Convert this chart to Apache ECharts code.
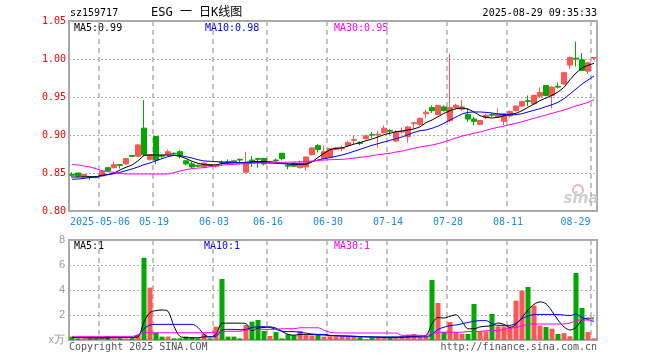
<!DOCTYPE html>
<html>
<head>
<meta charset="utf-8">
<script src="https://cdn.jsdelivr.net/npm/echarts@6/dist/echarts.min.js"></script>
<style>
html,body{margin:0;padding:0;background:#fff;}
#c{width:660px;height:360px;}
</style>
</head>
<body>
<div id="c"></div>
<script>
const dates = [
'2025-04-24','2025-04-25','2025-04-28','2025-04-29','2025-04-30',
'2025-05-06','2025-05-07','2025-05-08','2025-05-09','2025-05-12','2025-05-13','2025-05-14','2025-05-15','2025-05-16',
'2025-05-19','2025-05-20','2025-05-21','2025-05-22','2025-05-23',
'2025-05-26','2025-05-27','2025-05-28','2025-05-29','2025-05-30',
'2025-06-03','2025-06-04','2025-06-05','2025-06-06',
'2025-06-09','2025-06-10','2025-06-11','2025-06-12','2025-06-13',
'2025-06-16','2025-06-17','2025-06-18','2025-06-19','2025-06-20',
'2025-06-23','2025-06-24','2025-06-25','2025-06-26','2025-06-27',
'2025-06-30','2025-07-01','2025-07-02','2025-07-03','2025-07-04',
'2025-07-07','2025-07-08','2025-07-09','2025-07-10','2025-07-11',
'2025-07-14','2025-07-15','2025-07-16','2025-07-17','2025-07-18',
'2025-07-21','2025-07-22','2025-07-23','2025-07-24','2025-07-25',
'2025-07-28','2025-07-29','2025-07-30','2025-07-31','2025-08-01',
'2025-08-04','2025-08-05','2025-08-06','2025-08-07','2025-08-08',
'2025-08-11','2025-08-12','2025-08-13','2025-08-14','2025-08-15',
'2025-08-18','2025-08-19','2025-08-20','2025-08-21','2025-08-22',
'2025-08-25','2025-08-26','2025-08-27','2025-08-28','2025-08-29'
];
const opens = [
0.848,0.850,0.845,0.845,0.845,
0.846,0.857,0.857,0.861,0.862,0.873,0.872,0.909,0.868,
0.898,0.873,0.874,0.876,0.878,
0.866,0.862,0.860,0.858,0.861,
0.859,0.864,0.865,0.866,
0.868,0.851,0.867,0.869,0.869,
0.863,0.867,0.876,0.860,0.863,
0.857,0.858,0.874,0.886,0.869,
0.871,0.881,0.882,0.886,0.893,
0.890,0.895,0.9005,0.900,0.903,
0.906,0.892,0.904,0.898,0.915,
0.914,0.928,0.936,0.927,0.937,
0.919,0.936,0.934,0.927,0.921,
0.914,0.923,0.927,0.924,0.918,
0.925,0.932,0.938,0.945,0.941,
0.951,0.965,0.952,0.964,0.967,
0.992,1.001,0.999,0.984,1.001
];
const closes = [
0.847,0.846,0.848,0.844,0.844,
0.852,0.853,0.861,0.860,0.869,0.872,0.887,0.874,0.874,
0.867,0.872,0.878,0.875,0.873,
0.862,0.858,0.859,0.863,0.860,
0.861,0.863,0.864,0.865,
0.867,0.864,0.866,0.868,0.862,
0.865,0.866,0.869,0.859,0.859,
0.863,0.871,0.883,0.881,0.878,
0.882,0.883,0.883,0.890,0.894,
0.889,0.899,0.900,0.901,0.909,
0.905,0.904,0.905,0.9105,0.916,
0.922,0.930,0.932,0.939,0.932,
0.936,0.939,0.937,0.921,0.918,
0.919,0.926,0.926,0.928,0.928,
0.931,0.938,0.944,0.944,0.952,
0.956,0.952,0.963,0.963,0.982,
1.002,1.000,0.985,0.995,1.002
];
const lows = [
0.844,0.845,0.844,0.841,0.843,
0.845,0.852,0.856,0.856,0.861,0.871,0.871,0.872,0.866,
0.862,0.870,0.873,0.874,0.869,
0.860,0.856,0.858,0.857,0.859,
0.857,0.8595,0.8605,0.864,
0.8635,0.850,0.858,0.857,0.860,
0.862,0.865,0.8667,0.855,0.858,
0.856,0.853,0.873,0.877,0.868,
0.870,0.880,0.8785,0.884,0.888,
0.8864,0.894,0.896,0.883,0.902,
0.9005,0.891,0.902,0.890,0.908,
0.912,0.922,0.929,0.926,0.931,
0.917,0.934,0.932,0.917,0.913,
0.913,0.921,0.924,0.923,0.913,
0.923,0.931,0.937,0.938,0.940,
0.9487,0.951,0.935,0.961,0.966,
0.987,0.990,0.984,0.980,0.999
];
const highs = [
0.851,0.850,0.848,0.846,0.846,
0.853,0.858,0.865,0.861,0.870,0.873,0.888,0.946,0.875,
0.898,0.874,0.881,0.877,0.880,
0.867,0.865,0.861,0.864,0.862,
0.862,0.8665,0.868,0.866,
0.869,0.878,0.872,0.870,0.870,
0.866,0.869,0.876,0.864,0.864,
0.866,0.872,0.884,0.888,0.886,
0.883,0.884,0.8855,0.8925,0.8996,
0.8917,0.899,0.904,0.905,0.9127,
0.908,0.9066,0.910,0.912,0.917,
0.923,0.9333,0.939,0.939,0.939,
1.007,0.941,0.946,0.9355,0.924,
0.919,0.928,0.929,0.935,0.929,
0.932,0.939,0.945,0.952,0.953,
0.9627,0.965,0.964,0.969,0.982,
1.003,1.023,1.008,0.996,1.002
];
const volumes = [
0.27,0.13,0.13,0.13,0.13,
0.13,0.32,0.32,0.15,0.13,0.15,0.43,6.58,4.19,
0.59,0.27,0.27,0.13,0.13,
0.27,0.20,0.13,0.53,0.13,
1.07,4.88,0.27,0.27,
0.13,1.20,1.47,1.60,0.72,
0.32,0.64,0.13,0.45,0.37,
0.72,0.37,0.37,0.40,0.27,
0.29,0.29,0.29,0.29,0.29,
0.21,0.08,0.21,0.21,0.16,
0.16,0.16,0.29,0.43,0.48,
0.29,0.29,4.80,2.96,0.64,
1.44,0.64,0.48,0.48,2.88,
0.69,0.69,2.08,1.09,1.09,
1.09,3.15,3.95,4.24,2.75,
1.15,1.04,0.90,0.48,0.55,
0.30,5.36,2.56,0.64,0.13
];
const ma5 = [
0.8447,0.8447,0.8449,0.8451,0.8451,
0.847,0.848,0.850,0.854,0.8575,0.8605,0.866,0.8732,0.8737,
0.8737,0.8737,0.8737,0.8732,0.872,
0.869,0.8655,0.8627,0.861,0.8605,
0.8605,0.8625,0.863,0.8632,
0.8632,0.864,0.865,0.8652,0.865,
0.8645,0.864,0.863,0.8617,0.8614,
0.8614,0.8614,0.8645,0.8706,0.8759,
0.8807,0.8825,0.883,0.8855,0.888,
0.890,0.8925,0.8947,0.8974,0.9004,
0.9022,0.9044,0.9053,0.9066,0.9079,
0.9108,0.9162,0.9197,0.924,0.9285,
0.932,0.9346,0.9355,0.9342,0.9303,
0.9254,0.9232,0.9224,0.9232,0.9254,
0.9272,0.9285,0.932,0.9364,0.9408,
0.9452,0.9487,0.9522,0.9566,0.9627,
0.9728,0.9816,0.9882,0.9917,0.9943
];
const ma10 = [
0.8417,0.8421,0.843,0.8439,0.8447,
0.8465,0.8478,0.8491,0.8509,0.8531,0.8553,0.8579,0.861,0.8632,
0.8662,0.8689,0.8715,0.8732,0.8728,
0.8715,0.8697,0.8675,0.8658,0.8654,
0.8649,0.8645,0.864,0.864,
0.8636,0.8636,0.864,0.864,0.8636,
0.8632,0.8627,0.8623,0.862,0.862,
0.862,0.862,0.8649,0.8671,0.8689,
0.8702,0.8719,0.8737,0.8759,0.8785,
0.8811,0.8838,0.8864,0.8886,0.8908,
0.893,0.8952,0.8974,0.9004,0.9035,
0.9056,0.9066,0.9088,0.9118,0.9154,
0.9197,0.9237,0.9276,0.9298,0.9303,
0.9303,0.9298,0.929,0.9276,0.9268,
0.9263,0.9268,0.928,0.9303,0.9325,
0.9346,0.9373,0.9399,0.943,0.9478,
0.954,0.9605,0.9671,0.9724,0.9776
];
const ma30 = [
0.8614,0.8605,0.8592,0.8579,0.8557,
0.8531,0.8518,0.8509,0.8496,0.8487,0.8487,0.8487,0.8487,0.8487,
0.8487,0.8487,0.8487,0.8504,0.8526,
0.8544,0.8557,0.8565,0.857,0.8583,
0.8596,0.8605,0.861,0.8614,
0.8618,0.8623,0.8627,0.863,0.8632,
0.8636,0.864,0.864,0.8642,0.8645,
0.8648,0.865,0.8658,0.8665,0.867,
0.8675,0.8677,0.868,0.8686,0.8697,
0.8706,0.8715,0.8728,0.8741,0.875,
0.8759,0.8776,0.8789,0.8807,0.8825,
0.8842,0.8855,0.8868,0.8886,0.8908,
0.8934,0.896,0.8987,0.9004,0.9022,
0.9039,0.9061,0.9083,0.9101,0.9118,
0.9136,0.9154,0.9175,0.9197,0.9219,
0.9241,0.9263,0.9285,0.9307,0.9329,
0.9355,0.9382,0.9404,0.943,0.9465
];
const volMa5 = [
0.22,0.20,0.18,0.16,0.16,
0.15,0.17,0.20,0.20,0.20,0.20,0.25,1.45,2.20,
2.35,2.40,2.30,1.10,0.28,
0.20,0.18,0.18,0.25,0.25,
0.45,1.35,1.35,1.35,
1.35,1.30,0.75,0.95,1.00,
1.05,0.95,0.68,0.45,0.38,
0.45,0.42,0.45,0.42,0.40,
0.35,0.34,0.33,0.32,0.30,
0.28,0.26,0.24,0.22,0.20,
0.20,0.20,0.22,0.25,0.28,
0.32,0.36,1.30,1.80,1.76,
1.90,2.02,1.50,0.90,0.90,
1.05,1.10,1.15,1.36,1.25,
1.00,1.25,1.80,2.40,2.85,
3.05,2.90,2.30,1.60,1.05,
0.80,1.00,1.60,1.75,1.75
];
const volMa10 = [
0.20,0.20,0.20,0.20,0.20,
0.20,0.20,0.20,0.20,0.20,0.20,0.40,0.90,1.20,
1.25,1.25,1.25,1.25,1.25,
1.25,1.25,1.00,0.45,0.25,
0.30,0.78,0.85,0.85,
0.82,0.85,1.00,1.05,1.07,
1.00,0.85,0.70,0.67,0.67,
0.62,0.55,0.48,0.45,0.45,
0.37,0.35,0.32,0.30,0.29,
0.25,0.25,0.25,0.25,0.25,
0.25,0.25,0.25,0.25,0.25,
0.25,0.25,0.45,0.85,1.02,
1.15,1.20,1.30,1.40,1.50,
1.55,1.55,1.30,1.17,1.17,
1.17,1.35,1.70,1.92,2.03,
2.05,2.05,2.05,2.03,2.00,
1.95,2.08,1.80,1.65,1.45
];
const volMa30 = [
0.29,0.29,0.29,0.29,0.29,
0.29,0.29,0.29,0.29,0.29,0.29,0.40,0.60,0.58,
0.58,0.58,0.58,0.58,0.58,
0.58,0.58,0.58,0.58,0.60,
0.62,0.67,0.70,0.70,
0.70,0.80,0.85,0.85,0.85,
0.85,0.85,0.90,0.90,0.90,
0.98,0.98,0.98,0.98,0.78,
0.62,0.57,0.56,0.56,0.56,
0.56,0.56,0.56,0.56,0.56,
0.56,0.56,0.38,0.37,0.37,
0.37,0.37,0.50,0.60,0.62,
0.62,0.62,0.62,0.68,0.68,
0.68,0.75,0.75,0.75,0.85,
0.95,1.00,1.12,1.25,1.28,
1.28,1.28,1.28,1.28,1.28,
1.35,1.55,1.60,1.60,1.60
];
const tickDates = ['2025-05-06','2025-05-19','2025-06-03','2025-06-16','2025-06-30','2025-07-14','2025-07-28','2025-08-11','2025-08-29'];
const tickLabels = ['2025-05-06','05-19','06-03','06-16','06-30','07-14','07-28','08-11','08-29'];

const RED = '#ff5555', GREEN = '#00a800';
const MONO = '"DejaVu Sans Mono","Liberation Mono",monospace';
const isTick = (i, v) => tickDates.indexOf(v) >= 0;

const chart = echarts.init(document.getElementById('c'), null, {renderer: 'canvas'});
const vSplit = {show: true, interval: isTick, lineStyle: {color: '#b0b0b0', type: [5, 4], width: 1.5}};
const hSplit = {show: true, lineStyle: {color: '#b0b0b0', type: [2, 2], width: 1}};

chart.setOption({
  animation: false,
  backgroundColor: '#fff',
  grid: [
    {left: 69, width: 528, top: 21, height: 190, show: true, borderColor: '#a8a8a8', borderWidth: 2},
    {left: 69, width: 528, top: 240, height: 100, show: true, borderColor: '#a8a8a8', borderWidth: 2}
  ],
  xAxis: [
    {type: 'category', gridIndex: 0, data: dates, boundaryGap: true,
     axisLine: {show: false}, axisTick: {show: false},
     axisLabel: {interval: isTick, color: '#1e8ae6', fontFamily: MONO, fontSize: 10, margin: 6,
       padding: [0, 4, 0, 0],
       formatter: function (v) {
         const k = tickDates.indexOf(v);
         return k === tickDates.length - 1 ? '{e|' + tickLabels[k] + '}' : tickLabels[k];
       },
       rich: {e: {padding: [0, 33, 0, 0], color: '#1e8ae6', fontFamily: MONO, fontSize: 10}}},
     splitLine: vSplit},
    {type: 'category', gridIndex: 1, data: dates, boundaryGap: true,
     axisLine: {show: false}, axisTick: {show: false}, axisLabel: {show: false},
     splitLine: vSplit}
  ],
  yAxis: [
    {type: 'value', gridIndex: 0, min: 0.8, max: 1.05, interval: 0.05, scale: true,
     axisLine: {show: false}, axisTick: {show: false},
     axisLabel: {color: '#ff0000', fontFamily: MONO, fontSize: 10, margin: 3,
       formatter: v => v.toFixed(2)},
     splitLine: hSplit},
    {type: 'value', gridIndex: 1, min: 0, max: 8, interval: 2,
     axisLine: {show: false}, axisTick: {show: false},
     axisLabel: {color: '#999', fontFamily: '"Liberation Sans",Arial,sans-serif', fontSize: 11, margin: 4,
       formatter: v => v === 0 ? 'x万' : String(v)},
     splitLine: hSplit}
  ],
  series: [
    {type: 'candlestick', xAxisIndex: 0, yAxisIndex: 0, barWidth: 5,
     data: dates.map((d, i) => [opens[i], closes[i], lows[i], highs[i]]),
     itemStyle: {color: RED, color0: GREEN, borderColor: RED, borderColor0: GREEN, borderWidth: 1}},
    {type: 'line', xAxisIndex: 0, yAxisIndex: 0, data: ma5, symbol: 'none', lineStyle: {color: '#000', width: 1}},
    {type: 'line', xAxisIndex: 0, yAxisIndex: 0, data: ma10, symbol: 'none', lineStyle: {color: '#0000ff', width: 1}},
    {type: 'line', xAxisIndex: 0, yAxisIndex: 0, data: ma30, symbol: 'none', lineStyle: {color: '#ff00ff', width: 1}},
    {type: 'bar', xAxisIndex: 1, yAxisIndex: 1, barWidth: 5,
     data: volumes.map((v, i) => ({value: v, itemStyle: {color: closes[i] >= opens[i] ? RED : GREEN}}))},
    {type: 'line', xAxisIndex: 1, yAxisIndex: 1, data: volMa5, symbol: 'none', smooth: 0.3, lineStyle: {color: '#000', width: 1}},
    {type: 'line', xAxisIndex: 1, yAxisIndex: 1, data: volMa10, symbol: 'none', smooth: 0.3, lineStyle: {color: '#0000ff', width: 1}},
    {type: 'line', xAxisIndex: 1, yAxisIndex: 1, data: volMa30, symbol: 'none', smooth: 0.3, lineStyle: {color: '#ff00ff', width: 1}}
  ],
  graphic: [
    {type: 'text', x: 70, y: 13, style: {text: 'sz159717', fill: '#000', font: '10px ' + MONO, verticalAlign: 'middle'}},
    {type: 'text', x: 151, y: 13, style: {text: 'ESG 一 日K线图', fill: '#000', font: '12px "DejaVu Sans Mono","Noto Sans CJK SC"', verticalAlign: 'middle'}},
    {type: 'text', x: 597, y: 13, style: {text: '2025-08-29 09:35:33', fill: '#000', font: '10px ' + MONO, align: 'right', verticalAlign: 'middle'}},
    {type: 'text', x: 74, y: 28, style: {text: 'MA5:' + ma5[ma5.length - 1].toFixed(2), fill: '#000', font: '10px ' + MONO, verticalAlign: 'middle'}},
    {type: 'text', x: 205, y: 28, style: {text: 'MA10:' + ma10[ma10.length - 1].toFixed(2), fill: '#0000ff', font: '10px ' + MONO, verticalAlign: 'middle'}},
    {type: 'text', x: 334, y: 28, style: {text: 'MA30:' + ma30[ma30.length - 1].toFixed(2), fill: '#ff00ff', font: '10px ' + MONO, verticalAlign: 'middle'}},
    {type: 'text', x: 74, y: 246, style: {text: 'MA5:1', fill: '#000', font: '10px ' + MONO, verticalAlign: 'middle'}},
    {type: 'text', x: 204, y: 246, style: {text: 'MA10:1', fill: '#0000ff', font: '10px ' + MONO, verticalAlign: 'middle'}},
    {type: 'text', x: 334, y: 246, style: {text: 'MA30:1', fill: '#ff00ff', font: '10px ' + MONO, verticalAlign: 'middle'}},
    {type: 'text', x: 69, y: 347, style: {text: 'Copyright 2025 SINA.COM', fill: '#555', font: '10px ' + MONO, verticalAlign: 'middle'}},
    {type: 'text', x: 597, y: 347, style: {text: 'http://finance.sina.com.cn', fill: '#555', font: '10px ' + MONO, align: 'right', verticalAlign: 'middle'}},
    {type: 'circle', shape: {cx: 578, cy: 190, r: 5}, style: {fill: 'none', stroke: '#f2b3b3', lineWidth: 2}},
    {type: 'text', x: 581, y: 199, style: {text: 'sina', fill: '#cfcfcf', font: 'italic bold 15px "DejaVu Sans",sans-serif', align: 'center', verticalAlign: 'middle'}}
  ]
});
</script>
</body>
</html>
